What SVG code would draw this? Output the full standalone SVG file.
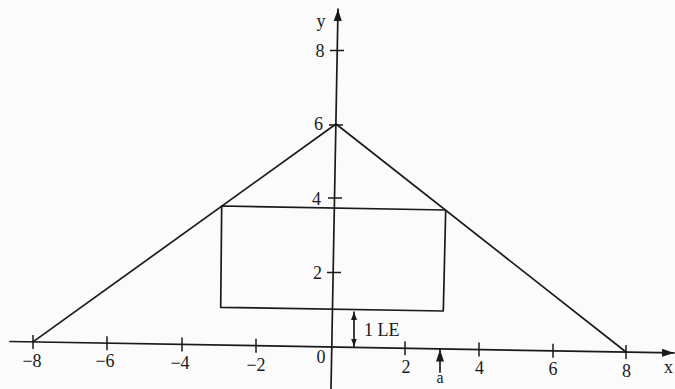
<svg xmlns="http://www.w3.org/2000/svg" width="675" height="389" viewBox="0 0 675 389">
<style>
.ln{stroke:#1a1a1a;stroke-width:1.7;fill:none;stroke-linecap:round;stroke-linejoin:round}
.tk{stroke:#1a1a1a;stroke-width:1.5;fill:none}
.t{font-family:"Liberation Serif","DejaVu Serif",serif;font-size:18px;fill:#1a1a1a}
.m{text-anchor:middle}
.e{text-anchor:end}
</style>
<defs>
<marker id="ah" viewBox="0 0 12 8" refX="12" refY="4" markerWidth="12" markerHeight="8" markerUnits="userSpaceOnUse" orient="auto">
<path d="M0,0 L12,4 L0,8 Z" fill="#1a1a1a"/>
</marker>
<marker id="ahs" viewBox="0 0 8 6" refX="8" refY="3" markerWidth="8" markerHeight="6" markerUnits="userSpaceOnUse" orient="auto-start-reverse">
<path d="M0,0 L8,3 L0,6 Z" fill="#1a1a1a"/>
</marker>
</defs>
<rect width="675" height="389" fill="#fbfbfb"/>
<g id="axes">
<line id="x-axis" class="ln" x1="10" y1="341.5" x2="674" y2="352.9" marker-end="url(#ah)"/>
<line id="y-axis" class="ln" x1="331" y1="389" x2="338" y2="9" marker-end="url(#ah)"/>
<g id="x-ticks" class="tk">
<line x1="33" y1="334.9" x2="33" y2="348.9"/>
<line x1="107" y1="336.2" x2="107" y2="350.2"/>
<line x1="182" y1="337.5" x2="182" y2="351.5"/>
<line x1="256" y1="338.7" x2="256" y2="352.7"/>
<line x1="405" y1="341.3" x2="405" y2="355.3"/>
<line x1="479" y1="342.6" x2="479" y2="356.6"/>
<line x1="553" y1="343.8" x2="553" y2="357.8"/>
<line x1="626" y1="345.1" x2="626" y2="359.1"/>
</g>
<g id="y-ticks" class="tk">
<line x1="330" y1="50.5" x2="344" y2="50.5"/>
<line x1="329" y1="125" x2="343" y2="125"/>
<line x1="328" y1="198" x2="342" y2="198"/>
<line x1="327" y1="272.5" x2="341" y2="272.5"/>
</g>
</g>
<g id="triangle">
<polyline class="ln" points="33,341.9 336,124 626,352"/>
</g>
<g id="rectangle">
<polygon class="ln" points="221.7,206 445.7,210 443.3,311 220.7,307.3"/>
</g>
<g id="connectors">
<line id="le-arrow" class="ln" x1="354" y1="312" x2="354" y2="346.5" marker-start="url(#ahs)" marker-end="url(#ahs)"/>
<line id="a-arrow" class="ln" x1="440" y1="372" x2="440" y2="349.5" marker-end="url(#ah)"/>
</g>
<g id="labels">
<text class="t m" x="32" y="366.7">−8</text>
<text class="t m" x="105" y="366.5">−6</text>
<text class="t m" x="180" y="369">−4</text>
<text class="t m" x="256" y="371">−2</text>
<text class="t m" x="321" y="362.7">0</text>
<text class="t m" x="406" y="372.7">2</text>
<text class="t m" x="479.5" y="374">4</text>
<text class="t m" x="553" y="375">6</text>
<text class="t m" x="626.5" y="377">8</text>
<text class="t" x="664" y="372.7">x</text>
<text class="t e" x="324.5" y="57">8</text>
<text class="t e" x="323" y="130">6</text>
<text class="t e" x="321" y="205">4</text>
<text class="t e" x="322" y="279">2</text>
<text class="t" x="316.5" y="26.5">y</text>
<text class="t" x="364" y="335.7">1 LE</text>
<text class="t m" x="440" y="383" style="font-size:16px">a</text>
</g>
</svg>
